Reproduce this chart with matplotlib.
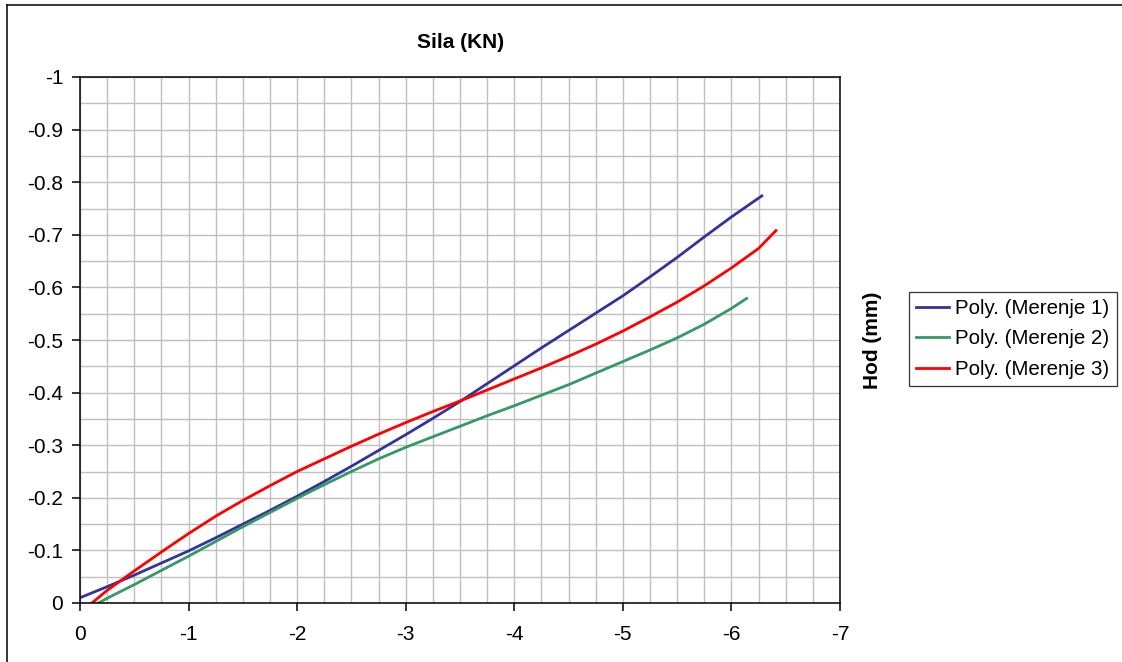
import matplotlib.pyplot as plt
from matplotlib.lines import Line2D
from matplotlib.ticker import MultipleLocator, FixedLocator, FixedFormatter

plt.rcParams['font.family'] = ['Liberation Sans', 'DejaVu Sans']

# ==========================================
# Data: polynomial trendlines of the three measurements
# ==========================================

x_m1 = [0, -0.25, -0.5, -0.75, -1, -1.25, -1.5, -1.75, -2, -2.25, -2.5, -2.75,
        -3, -3.25, -3.5, -3.75, -4, -4.25, -4.5, -4.75, -5, -5.25, -5.5, -5.75,
        -6, -6.28]
y_m1 = [-0.010, -0.031, -0.053, -0.076, -0.099, -0.124, -0.150, -0.176, -0.203,
        -0.231, -0.260, -0.290, -0.320, -0.351, -0.383, -0.417, -0.451, -0.485,
        -0.518, -0.551, -0.584, -0.620, -0.657, -0.696, -0.734, -0.774]

x_m2 = [-0.17, -0.25, -0.5, -0.75, -1, -1.25, -1.5, -1.75, -2, -2.25, -2.5,
        -2.75, -3, -3.25, -3.5, -3.75, -4, -4.25, -4.5, -4.75, -5, -5.25, -5.5,
        -5.75, -6, -6.14]
y_m2 = [0, -0.009, -0.035, -0.062, -0.089, -0.117, -0.145, -0.172, -0.199,
        -0.225, -0.250, -0.274, -0.296, -0.316, -0.336, -0.356, -0.375, -0.395,
        -0.415, -0.437, -0.459, -0.481, -0.504, -0.530, -0.560, -0.579]

x_m3 = [-0.11, -0.25, -0.5, -0.75, -1, -1.25, -1.5, -1.75, -2, -2.25, -2.5,
        -2.75, -3, -3.25, -3.5, -3.75, -4, -4.25, -4.5, -4.75, -5, -5.25, -5.5,
        -5.75, -6, -6.25, -6.41]
y_m3 = [0, -0.024, -0.061, -0.097, -0.132, -0.165, -0.195, -0.223, -0.250,
        -0.274, -0.298, -0.321, -0.343, -0.364, -0.384, -0.405, -0.426, -0.447,
        -0.469, -0.492, -0.517, -0.544, -0.572, -0.603, -0.637, -0.674, -0.708]

series_labels = ["Poly. (Merenje 1)", "Poly. (Merenje 2)", "Poly. (Merenje 3)"]

x_ticks = [0, -1, -2, -3, -4, -5, -6, -7]
x_tick_labels = ["0", "-1", "-2", "-3", "-4", "-5", "-6", "-7"]
y_ticks = [0, -0.1, -0.2, -0.3, -0.4, -0.5, -0.6, -0.7, -0.8, -0.9, -1]
y_tick_labels = ["0", "-0.1", "-0.2", "-0.3", "-0.4", "-0.5", "-0.6", "-0.7",
                 "-0.8", "-0.9", "-1"]

# ==========================================
# Figure
# ==========================================

W, H = 1122, 662
fig = plt.figure(figsize=(W / 100, H / 100), dpi=100)
ax = fig.add_axes([80 / W, 1 - 603 / H, 760 / W, 526 / H])

ax.plot(x_m1, y_m1, color="#333399", lw=2.0, label=series_labels[0])
ax.plot(x_m2, y_m2, color="#339966", lw=2.0, label=series_labels[1])
ax.plot(x_m3, y_m3, color="#FF0000", lw=2.0, label=series_labels[2])

ax.set_xlim(0, -7)
ax.set_ylim(0, -1)

ax.xaxis.set_major_locator(FixedLocator(x_ticks))
ax.xaxis.set_major_formatter(FixedFormatter(x_tick_labels))
ax.yaxis.set_major_locator(FixedLocator(y_ticks))
ax.yaxis.set_major_formatter(FixedFormatter(y_tick_labels))
ax.xaxis.set_minor_locator(MultipleLocator(0.25))
ax.yaxis.set_minor_locator(MultipleLocator(0.05))

ax.grid(which="both", color="#c0c0c0", lw=1.0)
ax.set_axisbelow(True)

ax.tick_params(which="major", direction="out", length=6, width=1.1,
               labelsize=15, color="black")
ax.tick_params(axis="x", which="major", pad=10)
ax.tick_params(axis="y", which="major", pad=6)
ax.tick_params(which="minor", length=0)

for s in ax.spines.values():
    s.set_linewidth(1.1)
    s.set_color("black")

# Title and axis name
fig.text(461 / W, 1 - 42 / H, "Sila (KN)", ha="center", va="center",
         fontsize=15, fontweight="bold")
fig.text(873 / W, 1 - 340 / H, "Hod (mm)", ha="center", va="center",
         rotation=90, fontsize=15, fontweight="bold")

leg = fig.legend(loc="upper left", bbox_to_anchor=(909 / W, 1 - 292 / H),
                 fontsize=14.8, frameon=True, fancybox=False, borderpad=0.35,
                 handlelength=1.6, handletextpad=0.3, labelspacing=0.55,
                 borderaxespad=0)
leg.get_frame().set_edgecolor("black")
leg.get_frame().set_linewidth(0.9)

# Chart area border (only left and top edges fall inside the image)
fig.add_artist(Line2D([7 / W, 7 / W], [0, 1 - 5 / H], color="black", lw=1.1))
fig.add_artist(Line2D([7 / W, 1], [1 - 5 / H, 1 - 5 / H], color="black", lw=1.1))

plt.savefig("out.png", dpi=100)
plt.close()
